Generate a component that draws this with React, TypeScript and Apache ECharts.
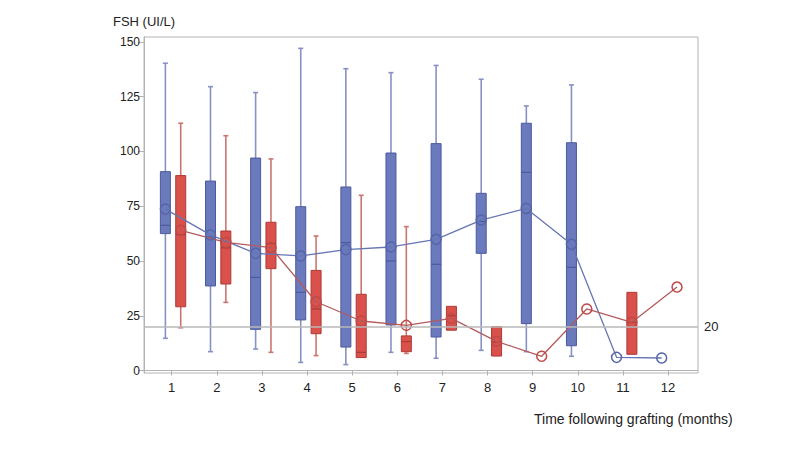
import React, { useEffect, useRef } from "react";
import * as echarts from "echarts";

const months = [1, 2, 3, 4, 5, 6, 7, 8, 9, 10, 11, 12];
const yTicks = [0, 25, 50, 75, 100, 125, 150];

const blueMin = [14.7, 8.6, 9.8, 3.7, 2.7, 8.3, 5.6, 9.2, 8.6, 6.5, null, null];
const blueQ1 = [62.5, 38.6, 18.8, 23.1, 10.7, 20.8, 15.3, 53.5, 21.4, 11.3, null, null];
const blueMedian = [66.3, 61, 42.5, 35.7, 58.4, 50, 48.5, 68, 90.5, 47.1, null, null];
const blueQ3 = [90.8, 86.5, 97, 74.8, 83.8, 99.3, 103.6, 80.9, 112.9, 104, null, null];
const blueMax = [140.3, 129.6, 126.9, 147.1, 137.8, 136, 139.3, 133, 120.8, 130.4, null, null];
const blueMean = [73.7, 61.9, 53.5, 52.3, 55.2, 56.4, 59.9, 68.7, 74, 57.6, 6, 5.7];

const redMin = [19.5, 31.1, 8.3, 6.8, 5.9, 7.8, 18.4, 6.6, null, null, 7.4, null];
const redQ1 = [29.1, 39.5, 46.5, 16.8, 5.9, 8.6, 18.4, 6.6, null, null, 7.4, null];
const redMedian = [62, 56, 58, 28.1, 8.3, 13.2, 25, 13, null, null, 22, null];
const redQ3 = [89, 63.7, 67.7, 45.7, 34.8, 15.8, 29.3, 20, null, null, 35.7, null];
const redMax = [112.9, 107.2, 96.6, 61.4, 80, 65.7, 29.3, 20, null, null, 35.7, null];
const redMean = [64, 58.5, 56.1, 31.4, 22.6, 20.6, 23.8, 13.3, 6.5, 28.1, 22, 38.1];

const threshold = 20;

const BLUE_OFFSET = -0.14;
const RED_OFFSET = 0.2;
const FONT = "'Liberation Sans', Arial, sans-serif";

function boxData(mn: any[], q1: any[], md: any[], q3: any[], mx: any[], off: number) {
  const out: number[][] = [];
  months.forEach((m, i) => {
    if (q1[i] == null) return;
    out.push([m + off, mn[i], q1[i], md[i], q3[i], mx[i]]);
  });
  return out;
}

function makeRender(fill: string, border: string, whisker: string) {
  return (params: any, api: any) => {
    const x = api.value(0);
    const c = (v: number) => api.coord([x, v]);
    const pMin = c(api.value(1));
    const pQ1 = c(api.value(2));
    const pMed = c(api.value(3));
    const pQ3 = c(api.value(4));
    const pMax = c(api.value(5));
    const w = 10;
    const cx = pQ1[0];
    const children: any[] = [];
    const lw = { stroke: whisker, lineWidth: 1.6 };
    if (pMax[1] < pQ3[1] - 0.5) {
      children.push({ type: "line", shape: { x1: cx, y1: pQ3[1], x2: cx, y2: pMax[1] }, style: lw });
      children.push({ type: "line", shape: { x1: cx - 2.5, y1: pMax[1], x2: cx + 2.5, y2: pMax[1] }, style: lw });
    }
    if (pMin[1] > pQ1[1] + 0.5) {
      children.push({ type: "line", shape: { x1: cx, y1: pQ1[1], x2: cx, y2: pMin[1] }, style: lw });
      children.push({ type: "line", shape: { x1: cx - 2.5, y1: pMin[1], x2: cx + 2.5, y2: pMin[1] }, style: lw });
    }
    children.push({
      type: "rect",
      shape: { x: cx - w / 2, y: pQ3[1], width: w, height: pQ1[1] - pQ3[1] },
      style: { fill, stroke: border, lineWidth: 1 },
    });
    children.push({
      type: "line",
      shape: { x1: cx - w / 2, y1: pMed[1], x2: cx + w / 2, y2: pMed[1] },
      style: { stroke: border, lineWidth: 1.2 },
    });
    return { type: "group", children };
  };
}

function meanData(arr: number[], off: number) {
  return months.map((m, i) => [m + off, arr[i]]);
}

export default function App() {
  const ref = useRef<HTMLDivElement>(null);
  useEffect(() => {
    if (!ref.current) return;
    const chart = echarts.init(ref.current, undefined, { renderer: "svg" });
    const axisColor = "#b4b4b4";
    chart.setOption({
      animation: false,
      grid: {
        left: 144,
        right: 102,
        top: 37,
        bottom: 77,
        show: true,
        borderColor: axisColor,
        borderWidth: 1,
      },
      xAxis: {
        type: "value",
        min: 0.386,
        max: 12.665,
        axisLine: { show: true, lineStyle: { color: axisColor } },
        axisTick: { show: true, length: 5, customValues: months, lineStyle: { color: axisColor } },
        axisLabel: { customValues: months, color: "#222", fontSize: 13, fontFamily: FONT, margin: 8 },
        splitLine: { show: false },
      },
      yAxis: {
        type: "value",
        min: -1.14,
        max: 152.28,
        axisLine: { show: true, lineStyle: { color: axisColor } },
        axisTick: { show: true, length: 6, customValues: yTicks, lineStyle: { color: axisColor } },
        axisLabel: { customValues: yTicks, color: "#222", fontSize: 12, fontFamily: FONT, margin: 4 },
        splitLine: { show: false },
      },
      graphic: [
        {
          type: "text",
          left: 113,
          top: 15,
          style: { text: "FSH (UI/L)", fill: "#222", font: `13px ${FONT}` },
        },
        {
          type: "text",
          left: 534,
          top: 412,
          style: { text: "Time following grafting (months)", fill: "#222", font: `14px ${FONT}` },
        },
      ],
      series: [
        {
          type: "line",
          data: [],
          z: 1,
          markLine: {
            silent: true,
            symbol: "none",
            lineStyle: { color: "#b8b8b8", width: 1.5, type: "solid" },
            label: { show: true, position: "end", formatter: "20", color: "#222", fontSize: 13, fontFamily: FONT, distance: 6 },
            data: [{ yAxis: threshold }],
          },
        },
        {
          type: "custom",
          z: 2,
          renderItem: makeRender("#6a7abd", "#4b5a9d", "#8791c4"),
          encode: { x: 0, y: [1, 2, 3, 4, 5] },
          data: boxData(blueMin, blueQ1, blueMedian, blueQ3, blueMax, BLUE_OFFSET),
        },
        {
          type: "custom",
          z: 2,
          renderItem: makeRender("#d9514a", "#ab3b36", "#c97672"),
          encode: { x: 0, y: [1, 2, 3, 4, 5] },
          data: boxData(redMin, redQ1, redMedian, redQ3, redMax, RED_OFFSET),
        },
        {
          type: "line",
          z: 3,
          data: meanData(blueMean, BLUE_OFFSET),
          symbol: "circle",
          symbolSize: 10,
          lineStyle: { color: "#6675b3", width: 1.3 },
          itemStyle: { color: "rgba(0,0,0,0)", borderColor: "#5565a8", borderWidth: 1.5 },
        },
        {
          type: "line",
          z: 3,
          data: meanData(redMean, RED_OFFSET),
          symbol: "circle",
          symbolSize: 10,
          lineStyle: { color: "#b55a5c", width: 1.3 },
          itemStyle: { color: "rgba(0,0,0,0)", borderColor: "#bf4a48", borderWidth: 1.5 },
        },
      ],
    });
    return () => chart.dispose();
  }, []);
  return <div ref={ref} style={{ width: 800, height: 450, position: "absolute", left: 0, top: 0 }} />;
}
